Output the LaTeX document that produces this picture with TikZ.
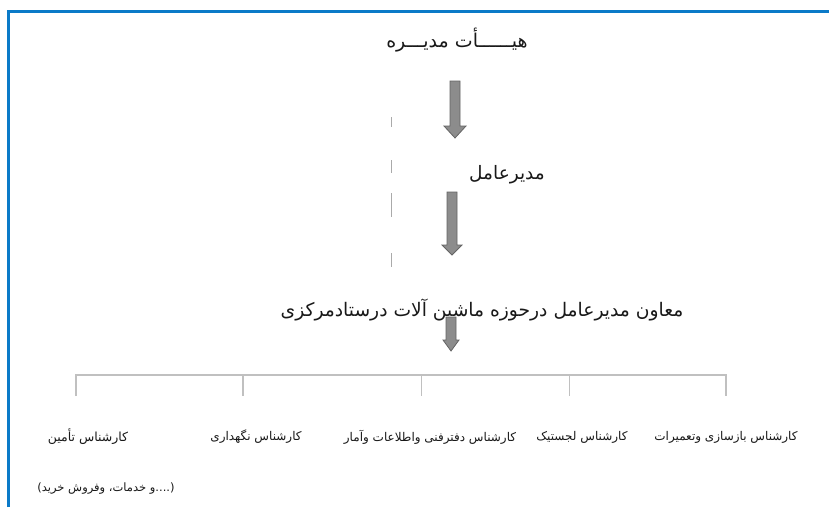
\documentclass[tikz,border=0pt]{standalone}
\usepackage{fontspec}
\newfontfamily\fa[Script=Arabic]{DejaVu Sans}
\newfontfamily\falat{DejaVu Sans}
\TeXXeTstate=1
\definecolor{frameblue}{RGB}{11,122,200}
\definecolor{arrowfill}{RGB}{140,140,140}
\definecolor{arrowline}{RGB}{100,100,100}
\definecolor{busgray}{RGB}{192,192,192}
\definecolor{dashgray}{RGB}{170,170,170}
\definecolor{txt}{RGB}{25,25,25}
\tikzset{
  pics/blockarr/.style n args={3}{code={
    \draw[arrowstyle] (-5,0) -- (5,0) -- (5,#1-#3) -- (#2,#1-#3) -- (0,#1)
      -- (-#2,#1-#3) -- (-5,#1-#3) -- cycle;}},
  arrowstyle/.style={fill=arrowfill, draw=arrowline, line width=0.8pt, line join=miter},
  lbl/.style={font=\fa\fontsize{#1}{#1}\selectfont, text=txt, inner sep=0pt},
  framel/.style={draw=frameblue, line width=2.6pt},
  busline/.style={draw=busgray, line width=1.5pt},
  dashline/.style={draw=dashgray, line width=1.4pt},
}
\begin{document}
\begin{tikzpicture}[x=1pt,y=-1pt]
\useasboundingbox (0,0) rectangle (829,507);
\fill[white] (0,0) rectangle (829,507);
% frame
\draw[framel] (8.7,507) -- (8.7,11.3) -- (829,11.3);
% dashed vertical line
\draw[dashline] (391.7,117) -- (391.7,127);
\draw[dashline] (391.7,160) -- (391.7,173);
\draw[dashline] (391.7,193) -- (391.7,217);
\draw[dashline] (391.7,253) -- (391.7,267);
% text nodes
\node[lbl=19] (board) at (457,40) {\beginR هیــــــأت مدیـــره\endR};
\node[lbl=18.5] (ceo) at (507,175) {\beginR مدیرعامل\endR};
\node[lbl=18.7] (deputy) at (482,310) {\beginR معاون مدیرعامل درحوزه ماشین آلات درستادمرکزی\endR};
% arrows
\coordinate (a1) at (455,81);
\coordinate (a2) at (452,192);
\coordinate (a3) at (451,317);
\pic at (a1) {blockarr={57}{11}{12}};
\pic at (a2) {blockarr={63}{10}{10}};
\pic at (a3) {blockarr={34}{8}{11}};
% bus
\coordinate (b1) at (76,375);
\coordinate (b2) at (243,375);
\coordinate (b3) at (421.5,375);
\coordinate (b4) at (569.5,375);
\coordinate (b5) at (726,375);
\coordinate (t1) at (76,396);
\coordinate (t2) at (243,396);
\coordinate (t3) at (421.5,396);
\coordinate (t4) at (569.5,396);
\coordinate (t5) at (726,396);
\draw[busline] (t1) -- (b1) -- (b5) -- (t5);
\draw[busline] (b2) -- (t2);
\draw[busline] (b3) -- (t3);
\draw[busline] (b4) -- (t4);
% bottom labels
\node[lbl=12] (rep) at (726,437) {\beginR کارشناس بازسازی وتعمیرات\endR};
\node[lbl=12] (log) at (582,437) {\beginR کارشناس لجستیک\endR};
\node[lbl=12] (tech) at (430,437) {\beginR کارشناس دفترفنی واطلاعات وآمار\endR};
\node[lbl=12] (maint) at (256,437) {\beginR کارشناس نگهداری\endR};
\node[lbl=12.5] (supp) at (88,437) {\beginR کارشناس تأمین\endR};
\node[lbl=11.5] (suppnote) at (106,489) {{\falat(}\beginR خرید\endR\ \beginR وفروش\endR\ ،\beginR خدمات\endR\ \beginR و\endR{\falat ....)}};
\end{tikzpicture}
\end{document}
